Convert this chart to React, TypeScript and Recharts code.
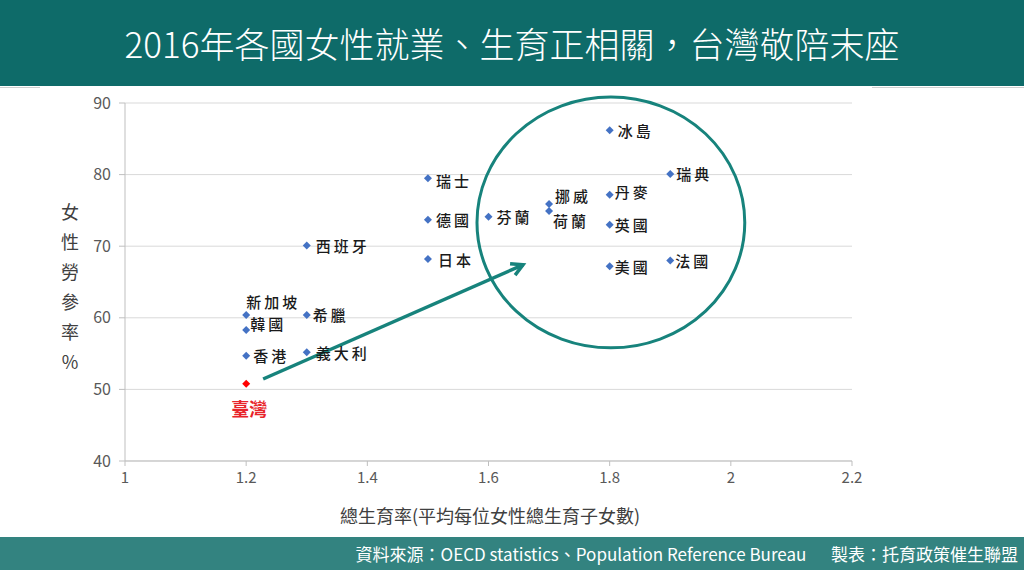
/**
 * 2016 female labour participation vs total fertility rate scatter
 */

import { ReferenceArea, ReferenceLine, Scatter, ScatterChart, CartesianGrid, XAxis, YAxis } from "recharts";

const countries = ["冰島", "瑞典", "瑞士", "丹麥", "挪威", "荷蘭", "芬蘭", "德國", "英國", "西班牙", "日本", "美國", "法國", "新加坡", "希臘", "韓國", "香港", "義大利"];
const fertility = [1.8, 1.9, 1.5, 1.8, 1.7, 1.7, 1.6, 1.5, 1.8, 1.3, 1.5, 1.8, 1.9, 1.2, 1.3, 1.2, 1.2, 1.3];
const laborRate = [86.2, 80.1, 79.5, 77.2, 75.9, 74.9, 74.1, 73.7, 73.0, 70.1, 68.2, 67.2, 68.0, 60.4, 60.4, 58.3, 54.7, 55.2];

const taiwanName = "臺灣";
const taiwanFertility = 1.2;
const taiwanLabor = 50.8;

const xTicks = [1, 1.2, 1.4, 1.6, 1.8, 2, 2.2];
const yTicks = [40, 50, 60, 70, 80, 90];

// annotations in data units
const circleBox = { x1: 1.581, x2: 2.023, y1: 55.8, y2: 90.84 };
const arrowFrom = { x: 1.228, y: 51.45 };
const arrowTo = { x: 1.657, y: 67.4 };

// label placement next to each marker (px)
const labelPos: Record<string, { dx: number; dy: number }> = {
	冰島: { dx: 8, dy: 0 },
	瑞典: { dx: 6, dy: 0 },
	瑞士: { dx: 8, dy: 2 },
	丹麥: { dx: 5, dy: -3 },
	挪威: { dx: 6, dy: -8 },
	荷蘭: { dx: 4, dy: 9 },
	芬蘭: { dx: 8, dy: 0 },
	德國: { dx: 8, dy: 0 },
	英國: { dx: 5, dy: 0 },
	西班牙: { dx: 9, dy: 0 },
	日本: { dx: 10, dy: 0 },
	美國: { dx: 5, dy: 0 },
	法國: { dx: 5, dy: 0 },
	新加坡: { dx: 0, dy: -13 },
	希臘: { dx: 6, dy: 0 },
	韓國: { dx: 4, dy: -6 },
	香港: { dx: 7, dy: 0 },
	義大利: { dx: 9, dy: 0 },
};

const TEAL = "#17837c";
const FONT = "'Noto Sans CJK TC', 'Noto Sans', sans-serif";

const countryData = countries.map((name, i) => ({ name, x: fertility[i], y: laborRate[i] }));
const taiwanData = [{ name: taiwanName, x: taiwanFertility, y: taiwanLabor }];

function CountryDot(props: any) {
	const { cx, cy, payload } = props;
	const pos = labelPos[payload.name] ?? { dx: 8, dy: 0 };
	const s = 4;
	return (
		<g>
			<polygon points={`${cx},${cy - s} ${cx + s},${cy} ${cx},${cy + s} ${cx - s},${cy}`} fill="#4472c4" />
			<text
				x={cx + pos.dx}
				y={cy + pos.dy}
				dominantBaseline="central"
				fontSize={15}
				fontWeight={500}
				fill="#1a1a1a"
				style={{ fontFamily: FONT, letterSpacing: 3 }}
			>
				{payload.name}
			</text>
		</g>
	);
}

function TaiwanDot(props: any) {
	const { cx, cy, payload } = props;
	const s = 4;
	return (
		<g>
			<polygon points={`${cx},${cy - s} ${cx + s},${cy} ${cx},${cy + s} ${cx - s},${cy}`} fill="#ff0000" />
			<text
				x={cx + 3}
				y={cy + 24}
				dominantBaseline="central"
				textAnchor="middle"
				fontSize={18}
				fontWeight={700}
				fill="#e8242a"
				style={{ fontFamily: FONT }}
			>
				{payload.name}
			</text>
		</g>
	);
}

function ArrowShape(props: any) {
	const { x1, y1, x2, y2 } = props;
	const ang = Math.atan2(y2 - y1, x2 - x1);
	const len = 13;
	const spread = 0.5;
	const ax = x2 - len * Math.cos(ang - spread);
	const ay = y2 - len * Math.sin(ang - spread);
	const bx = x2 - len * Math.cos(ang + spread);
	const by = y2 - len * Math.sin(ang + spread);
	return (
		<g>
			<line x1={x1} y1={y1} x2={x2} y2={y2} stroke={TEAL} strokeWidth={3.5} />
			<polyline
				points={`${ax},${ay} ${x2},${y2} ${bx},${by}`}
				fill="none"
				stroke={TEAL}
				strokeWidth={3.5}
				strokeLinejoin="miter"
			/>
		</g>
	);
}

function EllipseShape(props: any) {
	const { x, y, width, height } = props;
	return (
		<ellipse
			cx={x + width / 2}
			cy={y + height / 2}
			rx={Math.abs(width) / 2}
			ry={Math.abs(height) / 2}
			fill="none"
			stroke={TEAL}
			strokeWidth={3}
		/>
	);
}

export default function App() {
	return (
		<div
			style={{
				position: "absolute",
				left: 0,
				top: 0,
				width: 1024,
				height: 576,
				background: "#fff",
				overflow: "hidden",
				fontFamily: FONT,
			}}
		>
			{/* header */}
			<div
				style={{
					position: "absolute",
					left: 0,
					top: 0,
					width: 1024,
					height: 86,
					background: "#0e6b69",
					color: "#fff",
					fontSize: 35,
					fontWeight: 300,
					lineHeight: "86px",
					textAlign: "center",
				}}
			>
				2016年各國女性就業、生育正相關，台灣敬陪末座
			</div>
			<div style={{ position: "absolute", left: 0, top: 87, width: 40, height: 1, background: "#cfcfcf" }} />
			<div style={{ position: "absolute", left: 872, top: 87, width: 152, height: 1, background: "#cfcfcf" }} />

			<ScatterChart width={1024} height={576} margin={{ top: 103, right: 172, bottom: 85, left: 65 }} style={{ position: "absolute", left: 0, top: 0 }}>
				<CartesianGrid vertical={false} stroke="#d9d9d9" />
				<XAxis
					type="number"
					dataKey="x"
					domain={[1, 2.2]}
					ticks={xTicks}
					allowDataOverflow
					height={30}
					axisLine={{ stroke: "#bfbfbf" }}
					tickLine={{ stroke: "#bfbfbf" }}
					tickSize={5}
					tickMargin={6}
					tick={{ fill: "#595959", fontSize: 15, fontFamily: FONT }}
				/>
				<YAxis
					type="number"
					dataKey="y"
					domain={[40, 90]}
					ticks={yTicks}
					allowDataOverflow
					width={60}
					axisLine={{ stroke: "#bfbfbf" }}
					tickLine={{ stroke: "#bfbfbf" }}
					tickSize={6}
					tickMargin={8}
					tick={{ fill: "#595959", fontSize: 16, fontFamily: FONT }}
				/>
				<ReferenceArea
					x1={circleBox.x1}
					x2={circleBox.x2}
					y1={circleBox.y1}
					y2={circleBox.y2}
					ifOverflow="visible"
					shape={EllipseShape}
				/>
				<ReferenceLine segment={[arrowFrom, arrowTo]} ifOverflow="visible" shape={ArrowShape} />
				<Scatter data={countryData} shape={CountryDot} isAnimationActive={false} />
				<Scatter data={taiwanData} shape={TaiwanDot} isAnimationActive={false} />
			</ScatterChart>

			{/* y axis title, stacked vertically */}
			<div
				style={{
					position: "absolute",
					left: 58,
					top: 196,
					width: 24,
					fontSize: 18,
					lineHeight: "30px",
					color: "#404040",
					textAlign: "center",
				}}
			>
				{"女性勞參率%".split("").map((c) => (
					<div key={c}>{c}</div>
				))}
			</div>

			{/* x axis title */}
			<div
				style={{
					position: "absolute",
					left: 290,
					top: 502,
					width: 400,
					textAlign: "center",
					fontSize: 18,
					color: "#404040",
				}}
			>
				總生育率(平均每位女性總生育子女數)
			</div>

			{/* footer */}
			<div
				style={{
					position: "absolute",
					left: 0,
					top: 537,
					width: 1024,
					height: 33,
					background: "#338380",
				}}
			/>
			<div
				style={{
					position: "absolute",
					right: 6,
					top: 537,
					height: 33,
					lineHeight: "33px",
					fontSize: 17,
					color: "#fff",
					whiteSpace: "pre",
				}}
			>
				{"資料來源：OECD statistics、Population Reference Bureau　  製表：托育政策催生聯盟"}
			</div>
		</div>
	);
}
